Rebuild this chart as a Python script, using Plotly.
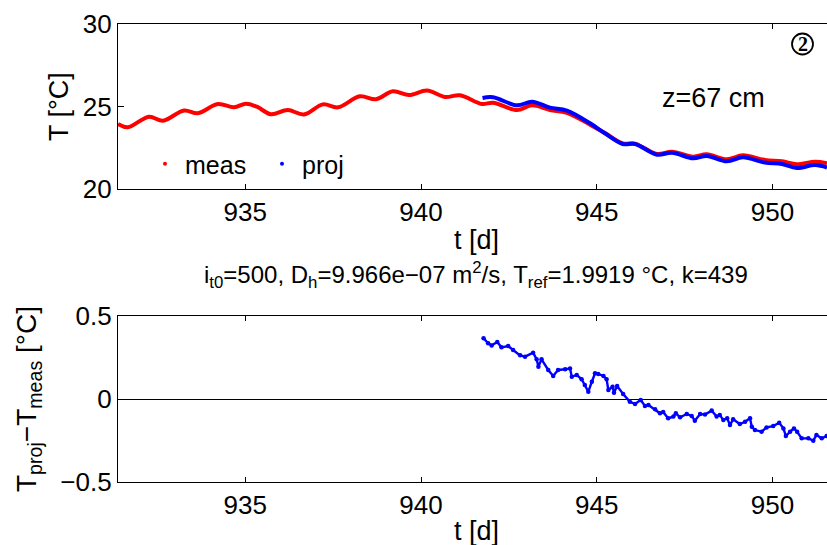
import plotly.graph_objects as go
from plotly.subplots import make_subplots

# Measured temperature at z = 67 cm
t_meas = [931.38, 931.66, 932.26, 932.66, 933.26, 933.65, 934.22, 934.68, 935.02, 935.33,
          935.73, 936.21, 936.67, 937.21, 937.64, 938.26, 938.72, 939.20, 939.66, 940.17,
          940.68, 941.11, 941.73, 942.05, 942.73, 943.16, 943.67, 944.15, 944.81, 945.23,
          945.74, 946.09, 946.71, 947.14, 947.74, 948.13, 948.70, 949.16, 949.78, 950.27,
          950.69, 951.21, 951.55]
T_meas = [23.94, 23.74, 24.38, 24.14, 24.76, 24.59, 25.15, 24.95, 25.17, 24.99,
          24.53, 24.79, 24.52, 25.13, 24.95, 25.62, 25.44, 25.92, 25.69, 25.97,
          25.58, 25.68, 25.15, 25.23, 24.79, 25.07, 24.79, 24.62, 23.90, 23.40,
          22.76, 22.75, 22.12, 22.26, 21.96, 22.10, 21.80, 22.04, 21.76, 21.68,
          21.50, 21.65, 21.56]

# Projected temperature
t_proj = [941.75, 942.05, 942.73, 943.16, 943.67, 944.15, 944.81, 945.23, 945.74, 946.09,
          946.71, 947.14, 947.74, 948.13, 948.70, 949.16, 949.78, 950.27, 950.69, 951.21,
          951.55]
T_proj = [25.52, 25.56, 25.07, 25.29, 24.93, 24.75, 23.98, 23.38, 22.73, 22.73,
          22.08, 22.20, 21.86, 22.00, 21.68, 21.92, 21.60, 21.52, 21.27, 21.45,
          21.30]

# Residual T_proj - T_meas
t_diff = [941.78, 941.91, 942.01, 942.17, 942.29, 942.48, 942.62, 942.82, 942.96, 943.19,
          943.29, 943.34, 943.43, 943.62, 943.76, 943.90, 944.10, 944.24, 944.29, 944.43,
          944.57, 944.66, 944.76, 944.86, 944.95, 945.04, 945.19, 945.28, 945.33, 945.45,
          945.49, 945.58, 945.75, 945.94, 946.09, 946.25, 946.37, 946.47, 946.66, 946.80,
          946.89, 947.03, 947.18, 947.25, 947.37, 947.56, 947.70, 947.79, 947.94, 948.08,
          948.27, 948.41, 948.50, 948.60, 948.71, 948.79, 948.88, 949.07, 949.22, 949.36,
          949.41, 949.50, 949.69, 949.83, 950.02, 950.19, 950.31, 950.38, 950.50, 950.61,
          950.70, 950.83, 951.02, 951.16, 951.25, 951.40, 951.54]
dT = [0.366, 0.336, 0.323, 0.343, 0.311, 0.319, 0.295, 0.263, 0.255, 0.279,
      0.239, 0.195, 0.239, 0.175, 0.139, 0.175, 0.179, 0.183, 0.134, 0.145,
      0.119, 0.084, 0.044, 0.104, 0.155, 0.151, 0.139, 0.119, 0.054, 0.074,
      0.038, 0.078, 0.030, -0.016, -0.030, -0.006, -0.042, -0.036, -0.062, -0.086,
      -0.078, -0.116, -0.106, -0.086, -0.110, -0.090, -0.102, -0.131, -0.090, -0.094,
      -0.070, -0.106, -0.096, -0.127, -0.116, -0.157, -0.122, -0.151, -0.137, -0.116,
      -0.167, -0.187, -0.197, -0.171, -0.163, -0.143, -0.177, -0.223, -0.197, -0.177,
      -0.197, -0.237, -0.237, -0.251, -0.217, -0.237, -0.223]

x_ticks = [935, 940, 945, 950]
top_ticks = [20, 25, 30]
bot_ticks = [-0.5, 0, 0.5]
bot_ticklabels = ["\u22120.5", "0", "0.5"]

FONT = "Liberation Sans, Arial, Helvetica, sans-serif"
RED = "#ff0000"
BLUE = "#0000ff"

W, H = 827, 545
ML, MR, MT, MB = 118, 0, 24, 63
PW, PH = W - ML - MR, H - MT - MB


def px(x):
    return (x - ML) / PW


def py(y):
    return (H - MB - y) / PH


fig = make_subplots(rows=2, cols=1, shared_xaxes=False)

fig.add_trace(go.Scatter(x=t_meas, y=T_meas, mode="lines", line=dict(color=RED, width=4, shape="spline"),
                         showlegend=False), row=1, col=1)
fig.add_trace(go.Scatter(x=t_proj, y=T_proj, mode="lines", line=dict(color=BLUE, width=4, shape="spline"),
                         showlegend=False), row=1, col=1)
# legend entries shown as small dots
fig.add_trace(go.Scatter(x=[None], y=[None], mode="markers", marker=dict(color=RED, size=4),
                         name="meas"), row=1, col=1)
fig.add_trace(go.Scatter(x=[None], y=[None], mode="markers", marker=dict(color=BLUE, size=4),
                         name="proj"), row=1, col=1)

fig.add_trace(go.Scatter(x=t_diff, y=dT, mode="lines+markers", line=dict(color=BLUE, width=2.4),
                         marker=dict(color=BLUE, size=4.5), showlegend=False), row=2, col=1)

xr = [931.38, 951.55]
fig.update_xaxes(range=xr, tickvals=x_ticks, ticks="inside", ticklen=5, tickcolor="black",
                 showline=True, linecolor="black", linewidth=1.3, mirror="ticks",
                 showgrid=False, zeroline=False, domain=[0, 1],
                 tickfont=dict(family=FONT, size=26, color="black"))

common_y = dict(ticks="inside", ticklen=6, tickcolor="black", showline=True, linecolor="black",
                linewidth=1.3, mirror=False, showgrid=False,
                tickfont=dict(family=FONT, size=26, color="black"))
fig.update_yaxes(**common_y, range=[20, 30], tickvals=top_ticks, zeroline=False,
                 domain=[py(189), 1.0], row=1, col=1)
fig.update_yaxes(**common_y, range=[-0.5, 0.5], tickvals=bot_ticks, ticktext=bot_ticklabels,
                 zeroline=True, zerolinecolor="black", zerolinewidth=1.3,
                 domain=[0.0, py(316)], row=2, col=1)


def label(text, x, y, size, angle=0, family=FONT):
    return dict(text=text, x=px(x), y=py(y), xref="paper", yref="paper", textangle=angle,
                xanchor="center", yanchor="middle", showarrow=False,
                font=dict(family=family, size=size, color="black"))


fig.update_layout(
    width=W, height=H,
    margin=dict(l=ML, r=MR, t=MT, b=MB),
    paper_bgcolor="white", plot_bgcolor="white",
    font=dict(family=FONT, color="black"),
    legend=dict(orientation="h", x=px(145), y=py(164), xanchor="left", yanchor="middle",
                bgcolor="rgba(0,0,0,0)", font=dict(family=FONT, size=25, color="black"),
                itemwidth=30, entrywidth=72),
    annotations=[
        label("T [°C]", 59, 107, 27, -90),
        label("T<sub>proj</sub>\u2212T<sub>meas</sub> [°C]", 28, 399, 28, -90),
        label("t [d]", 476, 240, 27),
        label("t [d]", 476, 531, 27),
        label("i<sub>t0</sub>=500, D<sub>h</sub>=9.966e\u221207 m<sup>2</sup>/s, "
              "T<sub>ref</sub>=1.9919 °C, k=439", 476, 275, 24),
        label("z=67 cm", 713, 98, 27),
        label("<b>2</b>", 802.5, 44.5, 20, family="Liberation Serif, Times New Roman, serif"),
    ],
    shapes=[
        dict(type="circle", xref="paper", yref="paper",
             x0=px(792), x1=px(813), y0=py(54.5), y1=py(33.5),
             line=dict(color="black", width=1.8)),
    ],
)

fig.write_html("out.html")
